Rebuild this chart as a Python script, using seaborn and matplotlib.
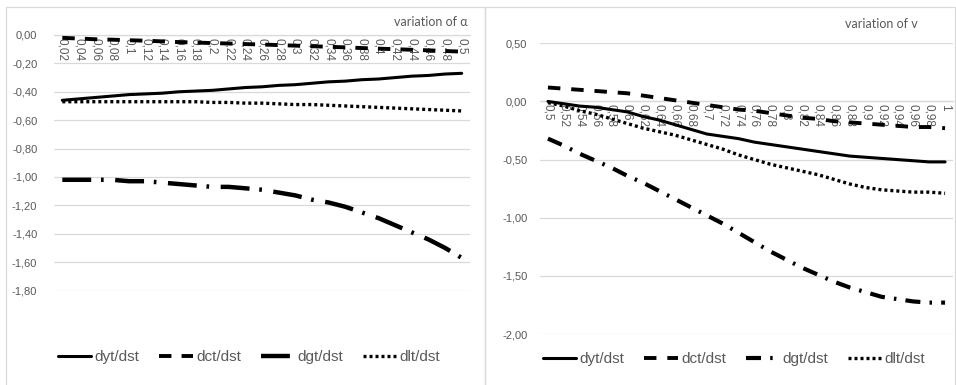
import numpy as np
import pandas as pd
import matplotlib
matplotlib.use("Agg")
import matplotlib.pyplot as plt
import seaborn as sns
from matplotlib.patches import Rectangle

# ---------------- data ----------------
alpha_labels = ["0,02", "0,04", "0,06", "0,08", "0,1", "0,12", "0,14", "0,16", "0,18", "0,2",
                "0,22", "0,24", "0,26", "0,28", "0,3", "0,32", "0,34", "0,36", "0,38", "0,4",
                "0,42", "0,44", "0,46", "0,48", "0,5"]
alpha_dyt = [-0.46, -0.45, -0.44, -0.43, -0.42, -0.415, -0.41, -0.40, -0.395, -0.39,
             -0.38, -0.37, -0.365, -0.355, -0.35, -0.34, -0.33, -0.325, -0.315, -0.31,
             -0.30, -0.29, -0.285, -0.275, -0.27]
alpha_dct = [-0.02, -0.025, -0.03, -0.033, -0.037, -0.04, -0.045, -0.05, -0.053, -0.057,
             -0.06, -0.064, -0.067, -0.071, -0.075, -0.079, -0.083, -0.087, -0.092, -0.096,
             -0.10, -0.104, -0.108, -0.113, -0.117]
alpha_dgt = [-1.02, -1.02, -1.02, -1.02, -1.03, -1.03, -1.04, -1.05, -1.06, -1.07,
             -1.07, -1.08, -1.09, -1.11, -1.13, -1.16, -1.18, -1.21, -1.25, -1.29,
             -1.34, -1.39, -1.44, -1.50, -1.57]
alpha_dlt = [-0.47, -0.47, -0.47, -0.47, -0.47, -0.47, -0.47, -0.47, -0.47, -0.475,
             -0.475, -0.48, -0.48, -0.485, -0.49, -0.49, -0.495, -0.50, -0.505, -0.51,
             -0.515, -0.52, -0.525, -0.53, -0.535]

v_labels = ["0,5", "0,52", "0,54", "0,56", "0,58", "0,6", "0,62", "0,64", "0,66", "0,68",
            "0,7", "0,72", "0,74", "0,76", "0,78", "0,8", "0,82", "0,84", "0,86", "0,88",
            "0,9", "0,92", "0,94", "0,96", "0,98", "1"]
v_dyt = [0.00, -0.02, -0.04, -0.05, -0.07, -0.09, -0.13, -0.16, -0.20, -0.24,
         -0.28, -0.30, -0.32, -0.35, -0.37, -0.39, -0.41, -0.43, -0.45, -0.47,
         -0.48, -0.49, -0.50, -0.51, -0.52, -0.52]
v_dct = [0.12, 0.11, 0.10, 0.09, 0.08, 0.07, 0.05, 0.03, 0.01, -0.01,
         -0.03, -0.05, -0.07, -0.08, -0.10, -0.12, -0.14, -0.15, -0.17, -0.18,
         -0.19, -0.20, -0.21, -0.22, -0.22, -0.23]
v_dgt = [-0.32, -0.38, -0.45, -0.51, -0.57, -0.64, -0.70, -0.77, -0.84, -0.91,
         -0.98, -1.05, -1.13, -1.21, -1.29, -1.36, -1.43, -1.49, -1.55, -1.60,
         -1.64, -1.68, -1.70, -1.72, -1.73, -1.73]
v_dlt = [-0.01, -0.04, -0.08, -0.11, -0.15, -0.19, -0.23, -0.26, -0.29, -0.33,
         -0.37, -0.41, -0.46, -0.50, -0.54, -0.57, -0.60, -0.63, -0.67, -0.71,
         -0.74, -0.76, -0.77, -0.78, -0.78, -0.79]

series_names = ["dyt/dst", "dct/dst", "dgt/dst", "dlt/dst"]

alpha_yticks = [0.0, -0.2, -0.4, -0.6, -0.8, -1.0, -1.2, -1.4, -1.6, -1.8]
alpha_yticklabels = ["0,00", "-0,20", "-0,40", "-0,60", "-0,80", "-1,00", "-1,20", "-1,40", "-1,60", "-1,80"]
v_yticks = [0.5, 0.0, -0.5, -1.0, -1.5, -2.0]
v_yticklabels = ["0,50", "0,00", "-0,50", "-1,00", "-1,50", "-2,00"]

# ---------------- style ----------------
sns.set_theme(style="white")
plt.rcParams["font.family"] = ["Liberation Sans", "DejaVu Sans"]
GRAY = "#595959"
GRID = "#d9d9d9"

W, H = 956, 385
fig = plt.figure(figsize=(W / 100, H / 100), dpi=100)


def px_axes(x0, y_top, x1, y_bot):
    return fig.add_axes([x0 / W, 1 - y_bot / H, (x1 - x0) / W, (y_bot - y_top) / H])


def draw_panel(ax, labels, ys, yticks, yticklabels, ylim, styles, ypad):
    idx = np.arange(len(labels))
    df = pd.DataFrame({"idx": idx})
    for name, y in zip(series_names, ys):
        df[name] = y
    for name in series_names:
        st = styles[name]
        sns.lineplot(data=df, x="idx", y=name, ax=ax, color="black",
                     linewidth=st["lw"], linestyle=st["ls"], label=name,
                     clip_on=False, zorder=3)
    ax.set_xlim(-0.5, len(labels) - 0.5)
    ax.set_ylim(*ylim)
    ax.set_yticks(yticks)
    ax.set_yticklabels(yticklabels)
    ax.set_xticks(idx)
    ax.set_xticklabels(labels)
    ax.set_xlabel("")
    ax.set_ylabel("")
    ax.grid(axis="y", color=GRID, linewidth=0.9)
    ax.set_axisbelow(True)
    for s in ["top", "right", "left"]:
        ax.spines[s].set_visible(False)
    ax.spines["bottom"].set_position(("data", 0))
    ax.spines["bottom"].set_color(GRID)
    ax.spines["bottom"].set_linewidth(0.9)
    ax.tick_params(axis="x", length=0, pad=2, labelsize=8.5, labelcolor=GRAY,
                   labelrotation=-90)
    ax.tick_params(axis="y", length=0, pad=ypad, labelsize=8, labelcolor=GRAY)
    ax.set_facecolor("none")
    if ax.get_legend() is not None:
        ax.get_legend().remove()


styles_alpha = {
    "dyt/dst": {"lw": 2.2, "ls": "-"},
    "dct/dst": {"lw": 2.8, "ls": (0, (3.2, 2.6))},
    "dgt/dst": {"lw": 3.2, "ls": (0, (6.5, 2.2, 0.6, 2.6))},
    "dlt/dst": {"lw": 2.4, "ls": (0, (0.9, 0.9))},
}
styles_v = {
    "dyt/dst": {"lw": 2.2, "ls": "-"},
    "dct/dst": {"lw": 2.8, "ls": (0, (3.2, 2.8))},
    "dgt/dst": {"lw": 3.0, "ls": (0, (3.6, 2.2, 0.6, 2.2))},
    "dlt/dst": {"lw": 2.4, "ls": (0, (0.9, 0.9))},
}

ax1 = px_axes(54, 35, 470, 290.5)
draw_panel(ax1, alpha_labels, [alpha_dyt, alpha_dct, alpha_dgt, alpha_dlt],
           alpha_yticks, alpha_yticklabels, (-1.8, 0.0), styles_alpha, 12)

ax2 = px_axes(540, 43.3, 953, 334)
draw_panel(ax2, v_labels, [v_dyt, v_dct, v_dgt, v_dlt],
           v_yticks, v_yticklabels, (-2.0, 0.5), styles_v, 9)

# titles
fig.text(468 / W, 1 - 22 / H, "variation of α", ha="right", va="center",
         fontsize=9, color=GRAY, family=["Lato", "DejaVu Sans"])
fig.text(918 / W, 1 - 24 / H, "variation of v", ha="right", va="center",
         fontsize=9, color=GRAY, family=["Lato", "DejaVu Sans"])

# legends
for ax, cx, cy in [(ax1, 249, 357), (ax2, 734, 359)]:
    h, l = ax.get_legend_handles_labels()
    fig.legend(h, l, loc="center", bbox_to_anchor=(cx / W, 1 - cy / H),
               ncol=4, frameon=False, fontsize=11, handlelength=2.2,
               handletextpad=0.2, columnspacing=1.3, labelcolor=GRAY)

# chart borders
fig.add_artist(Rectangle((6 / W, -0.02), (485 - 6) / W, (H + 1) / H,
                         transform=fig.transFigure, fill=False, ec=GRID, lw=0.9))
fig.add_artist(Rectangle((485 / W, -0.02), (955 - 485) / W, (H + 1) / H,
                         transform=fig.transFigure, fill=False, ec=GRID, lw=0.9))

fig.savefig("out.png", dpi=100)
